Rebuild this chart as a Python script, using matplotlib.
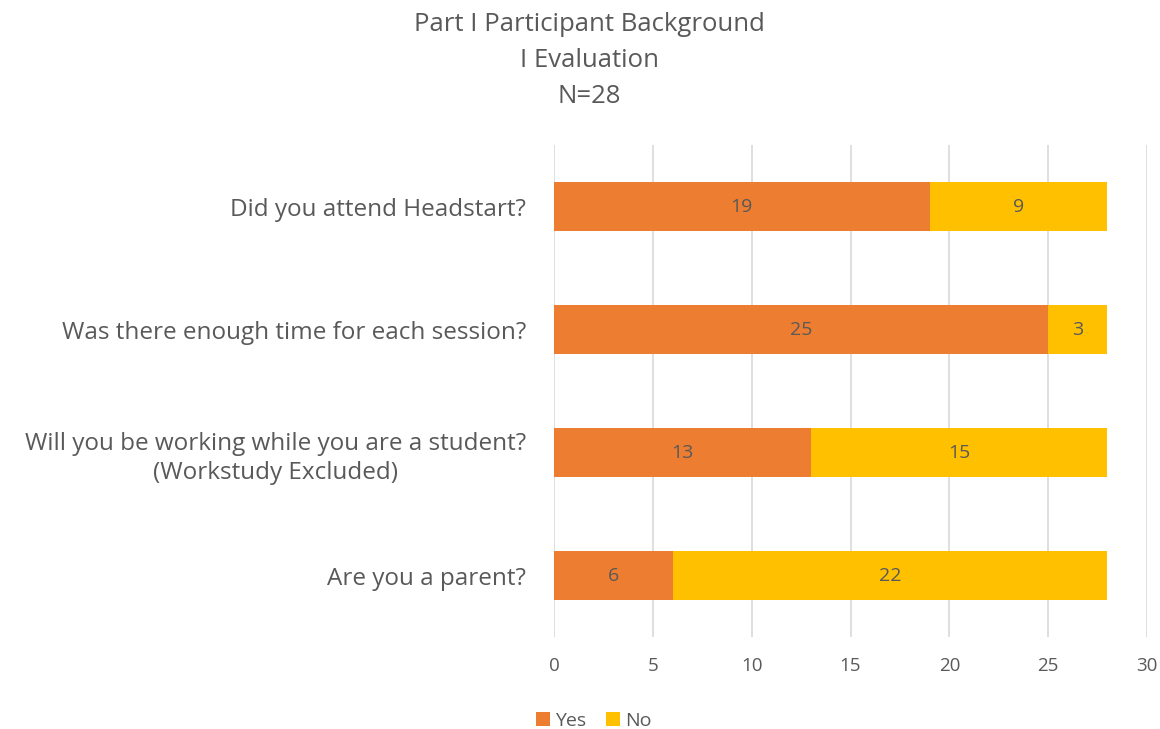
import matplotlib.pyplot as plt
import numpy as np

questions = ["Did you attend Headstart?",
             "Was there enough time for each session?",
             "Will you be working while you are a student?\n(Workstudy Excluded)",
             "Are you a parent?"]
yes = [19, 25, 13, 6]
no = [9, 3, 15, 22]

plt.rcParams['font.family'] = ['Open Sans', 'DejaVu Sans']
gray = '#595959'

fig = plt.figure(figsize=(11.6, 7.29), dpi=100)
ax = fig.add_axes([0.4776, 0.126, 0.5112, 0.675])

y = np.arange(len(questions))
b1 = ax.barh(y, yes, height=0.4, color='#ED7D31', label='Yes', zorder=3)
b2 = ax.barh(y, no, left=yes, height=0.4, color='#FFC000', label='No', zorder=3)
ax.bar_label(b1, label_type='center', color=gray, fontsize=14)
ax.bar_label(b2, label_type='center', color=gray, fontsize=14)

ax.set_ylim(3.5, -0.5)
ax.set_xlim(0, 30)
ax.set_xticks(range(0, 31, 5))
ax.set_yticks(y)
ax.set_yticklabels(questions, fontsize=17.5, color=gray, multialignment='center',
                   linespacing=1.3)
ax.tick_params(axis='y', length=0, pad=20)
ax.tick_params(axis='x', length=0, pad=14, labelsize=13.5, labelcolor=gray)
ax.grid(axis='x', color='#D9D9D9', linewidth=1.2, zorder=0)
for s in ax.spines.values():
    s.set_visible(False)

fig.text(0.508, 0.984, "Part I Participant Background\nI Evaluation\nN=28",
         ha='center', va='top', fontsize=18.5, color=gray, linespacing=1.6)

fig.legend(handles=[b1, b2], loc='lower center', bbox_to_anchor=(0.512, -0.025),
           ncol=2, frameon=False, fontsize=14, labelcolor=gray,
           handlelength=0.7, handleheight=0.7, handletextpad=0.3, columnspacing=1.0)

fig.savefig('out.png', dpi=100)
